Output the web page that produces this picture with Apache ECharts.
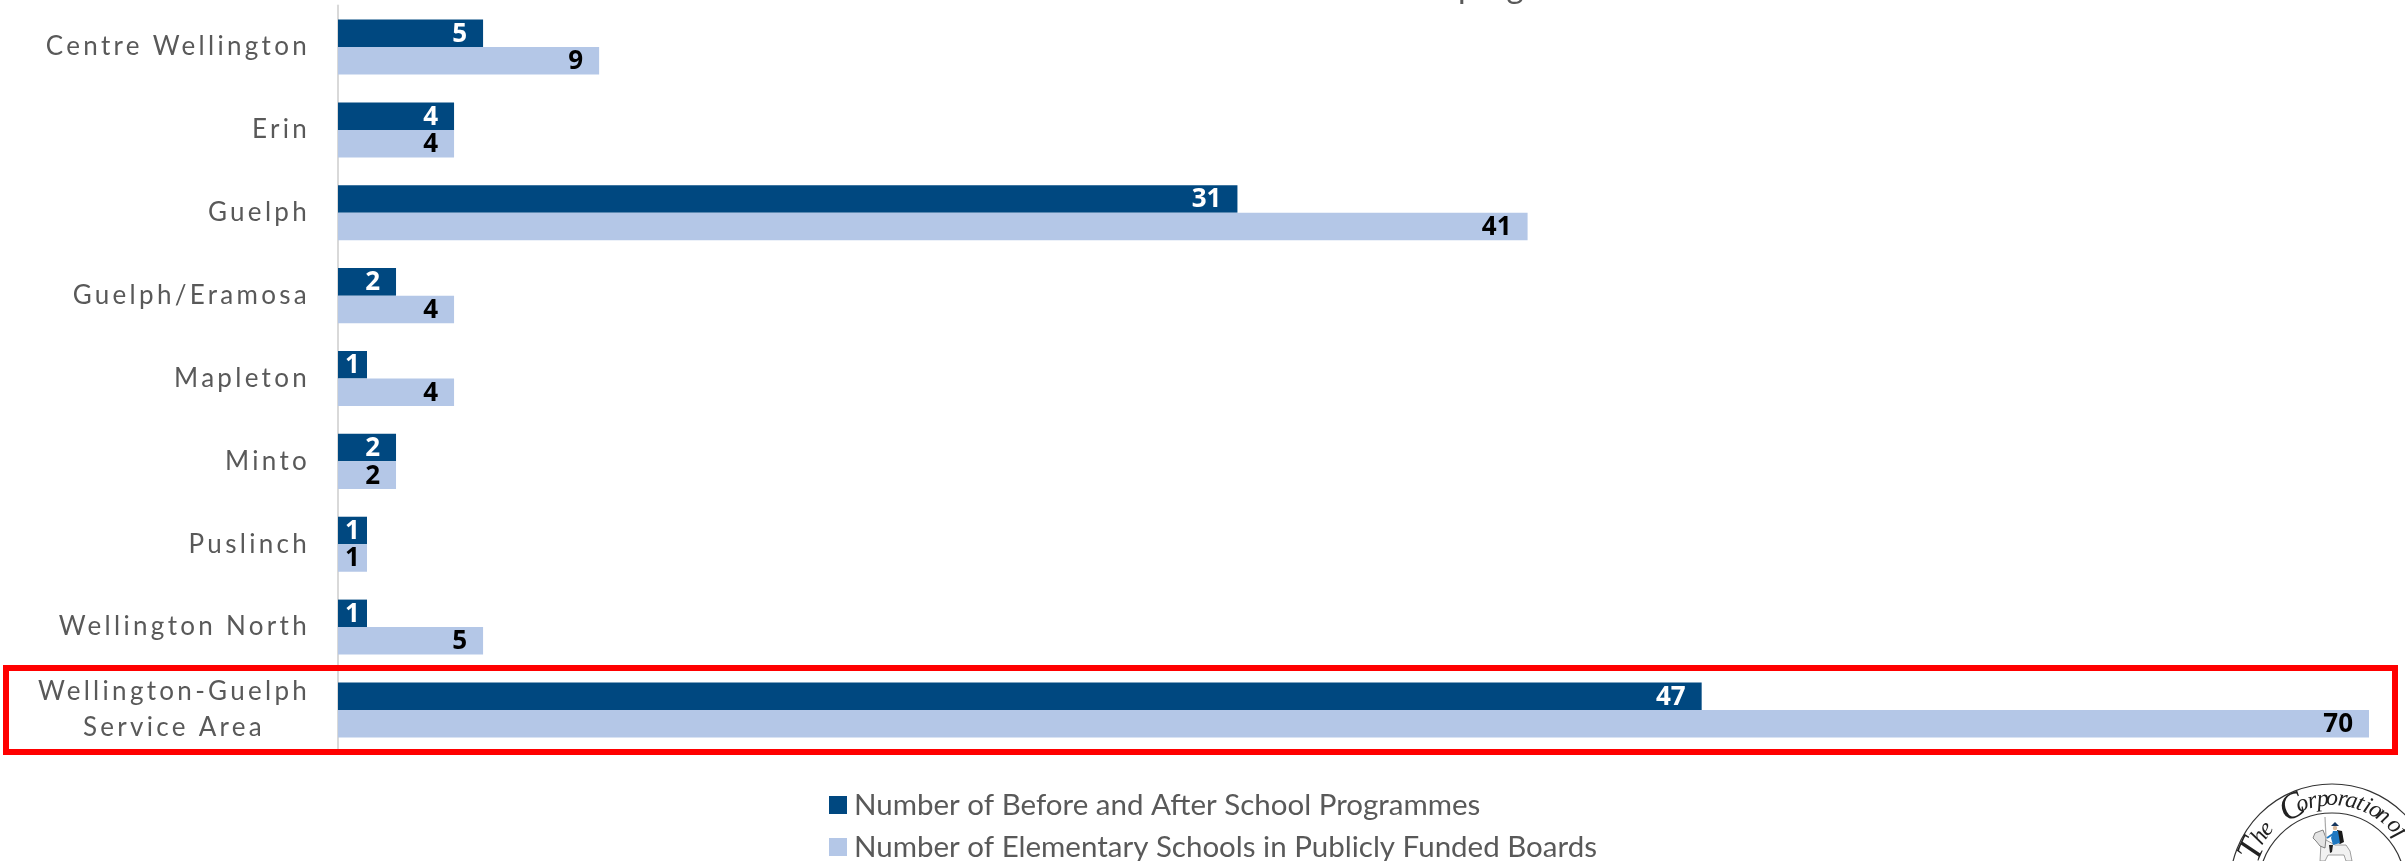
<!DOCTYPE html>
<html><head><meta charset="utf-8">
<style>html,body{margin:0;padding:0;background:#fff;overflow:hidden}#c{width:2405px;height:861px}</style>
<script src="https://cdn.jsdelivr.net/npm/echarts@6/dist/echarts.min.js"></script>
</head><body><div id="c"></div>
<script>
const categories = ['Centre Wellington','Erin','Guelph','Guelph/Eramosa','Mapleton','Minto','Puslinch','Wellington North','Wellington-Guelph\nService Area'];
const programmes = [5,4,31,2,1,2,1,1,47];
const schools = [9,4,41,4,4,2,1,5,70];
const seriesNames = ['Number of Before and After School Programmes','Number of Elementary Schools in Publicly Funded Boards'];
const sealText = 'The Corporation of';

// Tracked axis-label lettering (canvas property; the text itself is unchanged)
const spaced = new Set(categories.flatMap(c => c.split('\n')));
const origFill = CanvasRenderingContext2D.prototype.fillText;
CanvasRenderingContext2D.prototype.fillText = function (t, x, y, m) {
  const s = spaced.has(t);
  if (s) this.letterSpacing = '3.3px';
  const r = m === undefined ? origFill.call(this, t, x, y) : origFill.call(this, t, x, y, m);
  if (s) this.letterSpacing = '0px';
  return r;
};

const cx = 2332, cy = 886;
const grey = '#595959';
function sealLetters() {
  const angles = [-66,-56,-49,-36,-27,-20,-13,-6,0,7,13,19,24,30,36,0,46,52];
  const out = [];
  [...sealText].forEach((ch, i) => {
    if (ch === ' ') return;
    const a = angles[i] * Math.PI / 180, r = 87;
    out.push({type:'text', silent:true, x: cx + r*Math.sin(a), y: cy - r*Math.cos(a), rotation: -a,
      style:{text:ch, fill:'#222', font:`italic ${ch==='C'||ch==='T'?36:24}px "Liberation Serif"`, align:'center', verticalAlign:'middle'}});
  });
  return out;
}
const logo = [
  {type:'circle', silent:true, shape:{cx,cy,r:102}, style:{fill:'none',stroke:'#333',lineWidth:1.2}},
  {type:'circle', silent:true, shape:{cx,cy,r:73}, style:{fill:'none',stroke:'#333',lineWidth:1.2}},
  ...sealLetters(),
  // horse
  {type:'polygon', silent:true, shape:{points:[[2321,843],[2316,834],[2319,833],[2326,840],[2335,845],[2346,845],[2350,851],[2352,861],[2346,861],[2344,855],[2328,855],[2325,861],[2320,861]]}, style:{fill:'#f2f2f2',stroke:'#888',lineWidth:0.8}},
  {type:'polygon', silent:true, shape:{points:[[2323,830],[2315,833],[2313,838],[2316,841],[2320,846],[2325,848],[2326,838]]}, style:{fill:'#e4e4e4',stroke:'#666',lineWidth:0.8}},
  // sword
  {type:'line', silent:true, shape:{x1:2325,y1:817,x2:2326,y2:838}, style:{stroke:'#aaa',lineWidth:1.2}},
  // cape
  {type:'polygon', silent:true, shape:{points:[[2337,830],[2342,831],[2344,842],[2340,844],[2337,842]]}, style:{fill:'#1a1a1a'}},
  // coat
  {type:'polygon', silent:true, shape:{points:[[2333,831],[2338,831],[2340,843],[2333,845],[2331,838]]}, style:{fill:'#1f78c1'}},
  {type:'line', silent:true, shape:{x1:2333,y1:834,x2:2327,y2:838}, style:{stroke:'#1f78c1',lineWidth:2}},
  // leg
  {type:'polygon', silent:true, shape:{points:[[2329,845],[2333,845],[2332,852],[2330,853]]}, style:{fill:'#222'}},
  // head & hat
  {type:'circle', silent:true, shape:{cx:2335,cy:828,r:2.2}, style:{fill:'#d9b99b'}},
  {type:'polygon', silent:true, shape:{points:[[2331,826],[2335,822],[2339,826]]}, style:{fill:'#17365d'}}
];

const chart = echarts.init(document.getElementById('c'), null, {renderer:'canvas', width:2405, height:861});
function barSeries(name, data, color, labelColor) {
  return {name, type:'bar', barGap:'0%', barCategoryGap:'33.6%', itemStyle:{color},
    data: data.map(v => v === 1 ? {value:v, label:{position:'inside'}} : v),
    label:{show:true, position:'insideRight', distance:16, offset:[0,1], color:labelColor, fontFamily:'Open Sans', fontWeight:'bold', fontSize:26}};
}
function legendRow(name, top) {
  return {orient:'vertical', left:824, top, itemWidth:18, itemHeight:18, icon:'rect',
    selectedMode:false, textStyle:{color:grey, fontFamily:'Lato', fontSize:29.5, padding:[0,0,0,2]}, data:[name]};
}
chart.setOption({
  animation:false,
  backgroundColor:'#fff',
  grid:{left:338, right:36, top:5.6, bottom:861-751.4},
  xAxis:{type:'value', min:0, max:70, show:false},
  yAxis:{type:'category', inverse:true, data:categories,
    axisLine:{show:true, lineStyle:{color:'#d9d9d9', width:2}}, axisTick:{show:false},
    axisLabel:{margin:28, color:grey, fontFamily:'Lato', fontSize:26, align:'right',
      formatter:v => v.includes('\n') ? v.split('\n').map(l => '{c|'+l+'}').join('\n') : v,
      rich:{c:{width:272, align:'center', color:grey, fontFamily:'Lato', fontSize:26, lineHeight:36}}}},
  legend:[legendRow(seriesNames[0], 785), legendRow(seriesNames[1], 827)],
  series:[barSeries(seriesNames[0], programmes, '#004880', '#fff'),
          barSeries(seriesNames[1], schools, '#b4c7e7', '#000')],
  graphic:[
    {type:'rect', silent:true, shape:{x:6,y:668,width:2389,height:84}, style:{fill:'none',stroke:'#ff0000',lineWidth:6}, z:10},
    {type:'text', silent:true, x:1458, y:4, style:{text:'programmes', fill:grey, font:'33px Lato', verticalAlign:'bottom'}},
    ...logo
  ]
});
</script></body></html>
